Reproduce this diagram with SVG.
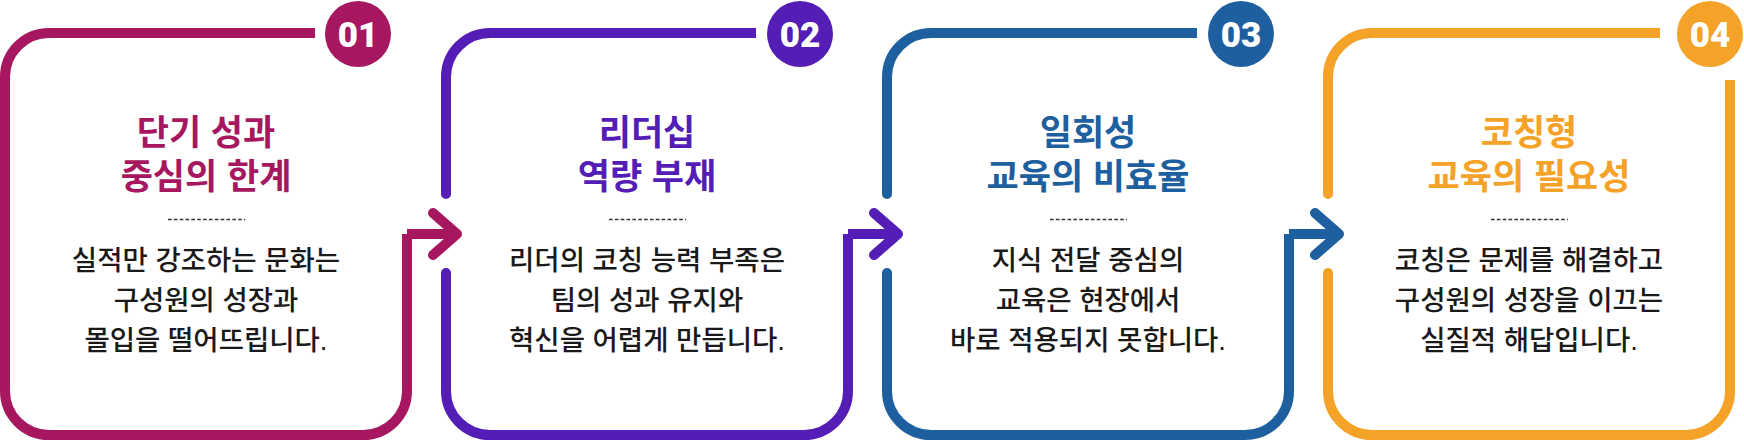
<svg xmlns="http://www.w3.org/2000/svg" width="1744" height="440" viewBox="0 0 1744 440">
<style>
.frame{fill:none;stroke-width:10;stroke-linejoin:miter;stroke-linecap:butt}
.chev{fill:none;stroke-width:10;stroke-linejoin:round;stroke-linecap:round}
.num{font-family:Roboto,"Liberation Sans",sans-serif;font-weight:900;font-size:35px;fill:#fff;text-anchor:middle}
.title{font-family:"Liberation Sans","Noto Sans CJK KR",sans-serif;font-weight:700;font-size:35px;text-anchor:middle}
.body{font-family:"Liberation Sans","Noto Sans CJK KR",sans-serif;font-weight:500;font-size:27.5px;fill:#1a1a1a;text-anchor:middle}
.dash{stroke:#333;stroke-width:1.6;stroke-dasharray:3.6 2.25}
.c1{stroke:#A6175F}.f1{fill:#A6175F}
.c2{stroke:#531DB6}.f2{fill:#531DB6}
.c3{stroke:#1D5F9F}.f3{fill:#1D5F9F}
.c4{stroke:#F5A228}.f4{fill:#F5A228}
</style>
<rect width="1744" height="440" fill="#fff"/>
<g id="connectors">
<path class="frame c1" d="M407 234 H455"/>
<path class="chev c1" d="M433 213 L457 234 L433 255"/>
<path class="frame c2" d="M848 234 H896"/>
<path class="chev c2" d="M874 213 L898 234 L874 255"/>
<path class="frame c3" d="M1289 234 H1337"/>
<path class="chev c3" d="M1315 213 L1339 234 L1315 255"/>
</g>
<g id="node1">
<path class="frame c1" d="M315 33 H49 A44 44 0 0 0 5 77 V391 A44 44 0 0 0 49 435 H363 A44 44 0 0 0 407 391 V234"/>
<circle class="f1" cx="358" cy="34" r="33"/>
<text class="num" x="358" y="46.5">01</text>
<text class="title f1" x="206" y="145">단기 성과</text>
<text class="title f1" x="206" y="189">중심의 한계</text>
<line class="dash" x1="168" y1="219.5" x2="245" y2="219.5"/>
<text class="body" x="206" y="270">실적만 강조하는 문화는</text>
<text class="body" x="206" y="310">구성원의 성장과</text>
<text class="body" x="206" y="350">몰입을 떨어뜨립니다.</text>
</g>
<g id="node2">
<path class="frame c2" d="M756 33 H490 A44 44 0 0 0 446 77 V194"/>
<circle class="f2" cx="446" cy="194" r="5"/>
<path class="frame c2" d="M446 273 V391 A44 44 0 0 0 490 435 H804 A44 44 0 0 0 848 391 V234"/>
<circle class="f2" cx="446" cy="273" r="5"/>
<circle class="f2" cx="800" cy="34" r="33"/>
<text class="num" x="800" y="46.5">02</text>
<text class="title f2" x="647" y="145">리더십</text>
<text class="title f2" x="647" y="189">역량 부재</text>
<line class="dash" x1="609" y1="219.5" x2="686" y2="219.5"/>
<text class="body" x="647" y="270">리더의 코칭 능력 부족은</text>
<text class="body" x="647" y="310">팀의 성과 유지와</text>
<text class="body" x="647" y="350">혁신을 어렵게 만듭니다.</text>
</g>
<g id="node3">
<path class="frame c3" d="M1197 33 H931 A44 44 0 0 0 887 77 V194"/>
<circle class="f3" cx="887" cy="194" r="5"/>
<path class="frame c3" d="M887 273 V391 A44 44 0 0 0 931 435 H1245 A44 44 0 0 0 1289 391 V234"/>
<circle class="f3" cx="887" cy="273" r="5"/>
<circle class="f3" cx="1241" cy="34" r="33"/>
<text class="num" x="1241" y="46.5">03</text>
<text class="title f3" x="1088" y="145">일회성</text>
<text class="title f3" x="1088" y="189">교육의 비효율</text>
<line class="dash" x1="1050" y1="219.5" x2="1127" y2="219.5"/>
<text class="body" x="1088" y="270">지식 전달 중심의</text>
<text class="body" x="1088" y="310">교육은 현장에서</text>
<text class="body" x="1088" y="350">바로 적용되지 못합니다.</text>
</g>
<g id="node4">
<path class="frame c4" d="M1660 33 H1372 A44 44 0 0 0 1328 77 V194"/>
<circle class="f4" cx="1328" cy="194" r="5"/>
<path class="frame c4" d="M1328 273 V391 A44 44 0 0 0 1372 435 H1686 A44 44 0 0 0 1730 391 V80"/>
<circle class="f4" cx="1328" cy="273" r="5"/>
<circle class="f4" cx="1710" cy="34" r="33"/>
<text class="num" x="1710" y="46.5">04</text>
<text class="title f4" x="1529" y="145">코칭형</text>
<text class="title f4" x="1529" y="189">교육의 필요성</text>
<line class="dash" x1="1491" y1="219.5" x2="1568" y2="219.5"/>
<text class="body" x="1529" y="270">코칭은 문제를 해결하고</text>
<text class="body" x="1529" y="310">구성원의 성장을 이끄는</text>
<text class="body" x="1529" y="350">실질적 해답입니다.</text>
</g>
</svg>
